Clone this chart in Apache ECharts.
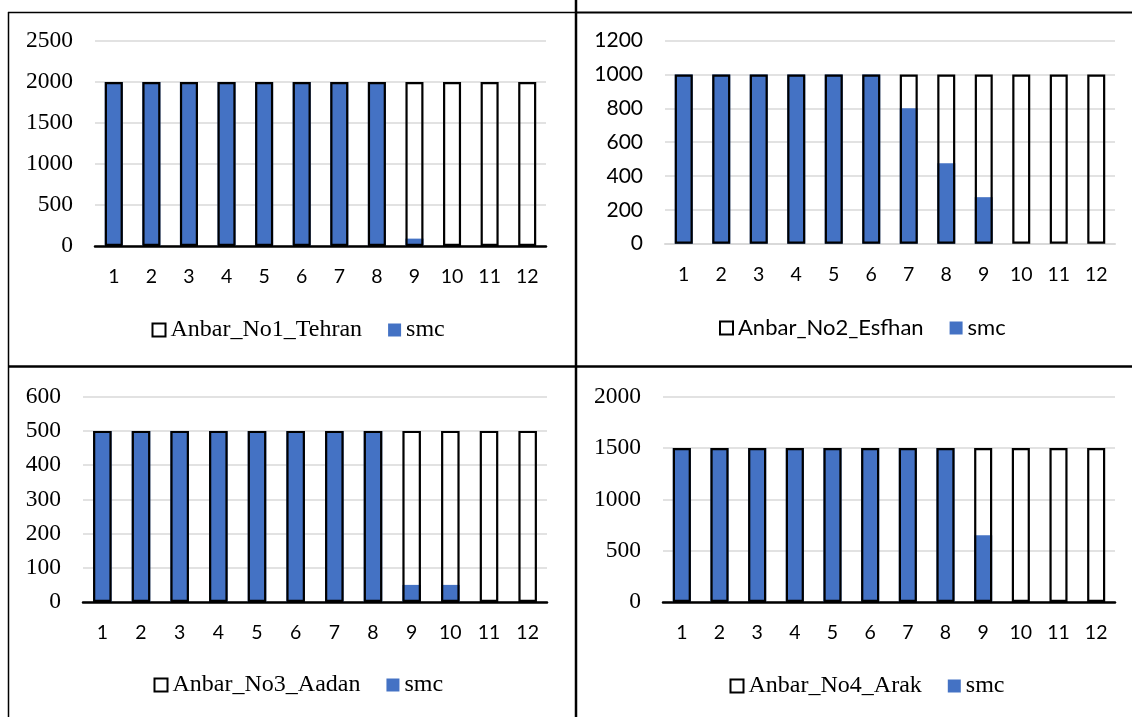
<!DOCTYPE html>
<html>
<head>
<meta charset="utf-8">
<script src="https://cdn.jsdelivr.net/npm/echarts@6/dist/echarts.min.js"></script>
<style>
html,body{margin:0;padding:0;background:#fff;}
#chart{width:1132px;height:717px;}
</style>
</head>
<body>
<div id="chart"></div>
<script>
// ---- data ----
const months = ['1','2','3','4','5','6','7','8','9','10','11','12'];
const names = ['Anbar_No1_Tehran','Anbar_No2_Esfhan','Anbar_No3_Aadan','Anbar_No4_Arak'];
const cap1 = [2000,2000,2000,2000,2000,2000,2000,2000,2000,2000,2000,2000];
const smc1 = [2000,2000,2000,2000,2000,2000,2000,2000,90,0,0,0];
const cap2 = [1000,1000,1000,1000,1000,1000,1000,1000,1000,1000,1000,1000];
const smc2 = [1000,1000,1000,1000,1000,1000,800,475,275,0,0,0];
const cap3 = [500,500,500,500,500,500,500,500,500,500,500,500];
const smc3 = [500,500,500,500,500,500,500,500,50,50,0,0];
const cap4 = [1500,1500,1500,1500,1500,1500,1500,1500,1500,1500,1500,1500];
const smc4 = [1500,1500,1500,1500,1500,1500,1500,1500,650,0,0,0];
const yMax = [2500,1200,600,2000];
const yStep = [500,200,100,500];

const caps = [cap1,cap2,cap3,cap4];
const smcs = [smc1,smc2,smc3,smc4];

// ---- layout ----
const grids = [
  {left:95, top:41, width:451, height:205},
  {left:665, top:40.7, width:450, height:203},
  {left:83, top:396.7, width:464, height:205.3},
  {left:663, top:396.7, width:452, height:205.3}
];
const serif = '"Liberation Serif", "Times New Roman", serif';
const sans = 'Lato, "Open Sans", sans-serif';
const yFont = [serif, sans, serif, serif];
const yFontSize = [23.5, 21, 23.5, 23.5];
const legendFont = [serif, sans, serif, serif];
const legendSize = [24, 22, 24, 24];
const legendPos = [{left:151.5, cy:330},{left:719, cy:328},{left:153.5, cy:685},{left:729.5, cy:686}];
const axisLineColor = ['#000','#D9D9D9','#000','#000'];
const blue = '#4472C4';

const xAxis = [], yAxis = [], series = [], legend = [];
for (let i = 0; i < 4; i++) {
  xAxis.push({
    type:'category', gridIndex:i, data:months,
    axisTick:{show:false},
    axisLine:{show:true, lineStyle:{color:axisLineColor[i], width: i===1?2:2.5}},
    axisLabel:{color:'#000', fontFamily:sans, fontSize:19.5, margin:21}
  });
  yAxis.push({
    type:'value', gridIndex:i, min:0, max:yMax[i], interval:yStep[i],
    axisLine:{show:false}, axisTick:{show:false},
    splitLine:{lineStyle:{color:'#D9D9D9', width:1.5}},
    axisLabel:{color:'#000', fontFamily:yFont[i], fontSize:yFontSize[i], margin:22,
      formatter:function(v){return String(v);}}
  });
  series.push({
    name:'smc', type:'bar', xAxisIndex:i, yAxisIndex:i, data:smcs[i],
    barWidth:'48%', barGap:'-100%', z:2,
    itemStyle:{color:blue, borderWidth:0}
  });
  series.push({
    name:names[i], type:'bar', xAxisIndex:i, yAxisIndex:i, data:caps[i],
    barWidth:'48%', barGap:'-100%', z:3,
    itemStyle:{color:'rgba(255,255,255,0)', borderColor:'#000', borderWidth:2.2}
  });
  legend.push({
    data:[names[i],'smc'], left:legendPos[i].left, top:legendPos[i].cy-13,
    padding:0, itemWidth:13, itemHeight:13, itemGap:26, icon:'rect',
    selectedMode:false,
    textStyle:{color:'#000', fontFamily:legendFont[i], fontSize:legendSize[i], lineHeight:26,
      rich:{t:{fontFamily:legendFont[i], fontSize:legendSize[i], color:'#000', lineHeight:26}}},
    formatter:function(n){return '{t|' + n + '}';}
  });
}

const graphic = [
  {type:'line', shape:{x1:8, y1:12.5, x2:576, y2:12.5}, style:{stroke:'#000', lineWidth:1.5}, z:10},
  {type:'line', shape:{x1:576, y1:12.5, x2:1132, y2:12.5}, style:{stroke:'#000', lineWidth:2}, z:10},
  {type:'line', shape:{x1:8.5, y1:12, x2:8.5, y2:717}, style:{stroke:'#000', lineWidth:1.5}, z:10},
  {type:'line', shape:{x1:576, y1:0, x2:576, y2:717}, style:{stroke:'#000', lineWidth:2.5}, z:10},
  {type:'line', shape:{x1:8, y1:366.5, x2:1132, y2:366.5}, style:{stroke:'#000', lineWidth:2.5}, z:10}
];

const chart = echarts.init(document.getElementById('chart'), null, {renderer:'canvas'});
chart.setOption({
  animation:false,
  backgroundColor:'#fff',
  grid:grids,
  xAxis, yAxis, series, legend, graphic
});
</script>
</body>
</html>
